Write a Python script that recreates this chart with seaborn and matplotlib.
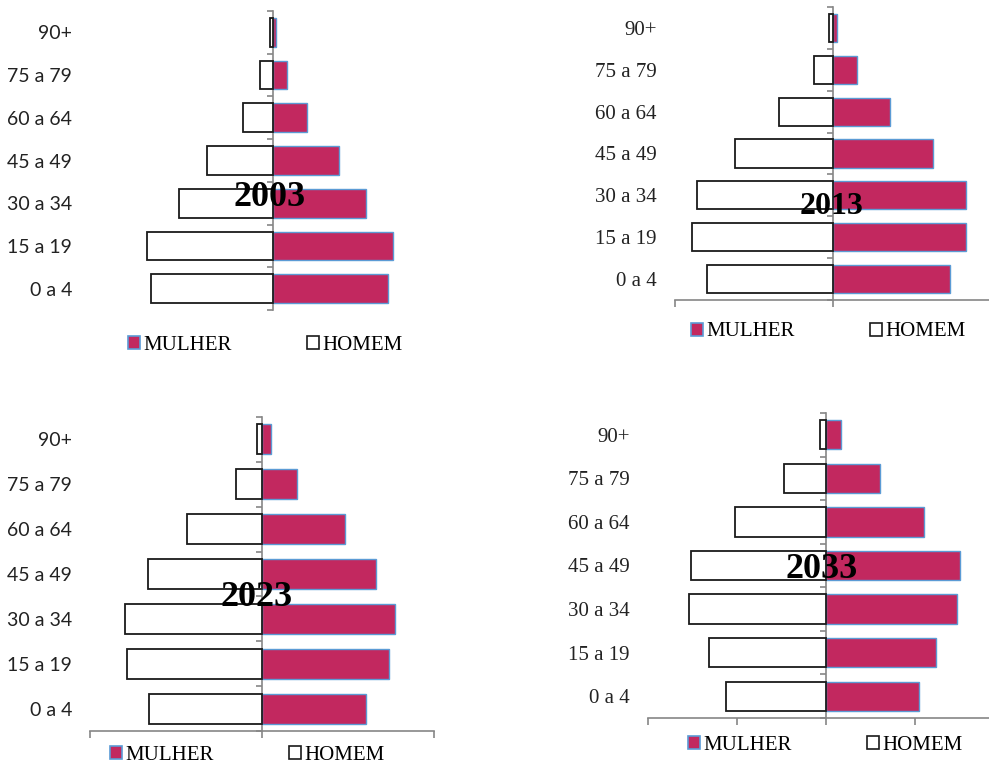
import matplotlib
matplotlib.use("Agg")
import matplotlib.pyplot as plt
import seaborn as sns
import pandas as pd
import numpy as np
from matplotlib.patches import Patch

# ---------------- data ----------------
grupos = ["0 a 4", "15 a 19", "30 a 34", "45 a 49", "60 a 64", "75 a 79", "90+"]
anos = ["2003", "2013", "2023", "2033"]

homem_2003 = [7.6, 7.9, 5.9, 4.1, 1.9, 0.8, 0.2]
mulher_2003 = [7.2, 7.5, 5.8, 4.1, 2.1, 0.9, 0.2]

homem_2013 = [8.0, 8.9, 8.6, 6.2, 3.4, 1.2, 0.25]
mulher_2013 = [7.4, 8.4, 8.4, 6.3, 3.6, 1.5, 0.27]

homem_2023 = [6.55, 7.87, 7.95, 6.63, 4.36, 1.49, 0.29]
mulher_2023 = [6.05, 7.37, 7.72, 6.65, 4.81, 2.03, 0.52]

homem_2033 = [5.6, 6.59, 7.70, 7.58, 5.10, 2.38, 0.35]
mulher_2033 = [5.24, 6.18, 7.36, 7.51, 5.49, 3.05, 0.86]

series = {
    "2003": (mulher_2003, homem_2003),
    "2013": (mulher_2013, homem_2013),
    "2023": (mulher_2023, homem_2023),
    "2033": (mulher_2033, homem_2033),
}

# ---------------- layout (pixels) ----------------
W, H = 989, 763
layout = {
    "2003": dict(x0=90, zero=273, x1=410, y0=11, y1=310, scale=16.0, tick=None,
                 year=(270, 198, 26), leg=(265, 345), labfont="Lato", labsize=14),
    "2013": dict(x0=675, zero=833, x1=1000, y0=7, y1=300, scale=15.8, tick=10,
                 year=(832, 207, 23), leg=(828, 332), labfont="Liberation Serif", labsize=15),
    "2023": dict(x0=90, zero=262, x1=434, y0=417, y1=731, scale=17.2, tick=10,
                 year=(257, 597, 26), leg=(247, 755), labfont="Lato", labsize=14),
    "2033": dict(x0=648, zero=826, x1=1000, y0=413, y1=718, scale=17.8, tick=5,
                 year=(822, 570, 26), leg=(825, 745), labfont="Liberation Serif", labsize=15),
}

CRIMSON = "#C2285F"
BLUE_EDGE = "#5B9BD5"
GRAY = "#868686"

fig = plt.figure(figsize=(W / 100, H / 100), dpi=100)
fig.patch.set_facecolor("white")

order = grupos[::-1]  # 90+ on top

for ano in anos:
    L = layout[ano]
    mulher, homem = series[ano]
    df = pd.DataFrame({
        "grupo": grupos * 2,
        "sexo": ["MULHER"] * len(grupos) + ["HOMEM"] * len(grupos),
        "valor": list(mulher) + [-v for v in homem],
    })
    ax = fig.add_axes([L["x0"] / W, 1 - L["y1"] / H,
                       (L["x1"] - L["x0"]) / W, (L["y1"] - L["y0"]) / H])
    sns.barplot(data=df, x="valor", y="grupo", hue="sexo", order=order,
                hue_order=["MULHER", "HOMEM"],
                palette={"MULHER": CRIMSON, "HOMEM": "white"}, saturation=1,
                dodge=False, width=0.67, ax=ax, legend=False, orient="h")
    for cont, ec, lw in zip(ax.containers, [BLUE_EDGE, "#1a1a1a"], [1.0, 1.3]):
        for bar in cont:
            bar.set_edgecolor(ec)
            bar.set_linewidth(lw)

    xmin = (L["x0"] - L["zero"]) / L["scale"]
    xmax = (L["x1"] - L["zero"]) / L["scale"]
    ax.set_xlim(xmin, xmax)
    ax.set_ylim(6.5, -0.5)
    ax.set_xlabel("")
    ax.set_ylabel("")
    ax.set_facecolor("none")

    for s in ["top", "right", "left"]:
        ax.spines[s].set_visible(False)
    ax.tick_params(axis="y", length=0, pad=13, labelsize=L["labsize"])
    for lab in ax.get_yticklabels():
        lab.set_fontfamily(L["labfont"])
        lab.set_color("#222222")

    if L["tick"] is None:
        ax.spines["bottom"].set_visible(False)
        ax.set_xticks([])
    else:
        ax.spines["bottom"].set_color(GRAY)
        ax.spines["bottom"].set_linewidth(1.2)
        step = L["tick"]
        ticks = np.arange(np.ceil(xmin / step) * step, xmax + 1e-9, step)
        ax.set_xticks(ticks)
        ax.set_xticklabels([])
        ax.tick_params(axis="x", length=5, width=1.2, color=GRAY)

    # central vertical axis with category boundary ticks
    frac = (0 - xmin) / (xmax - xmin)
    sec = ax.secondary_yaxis(frac)
    sec.set_alignment("left")
    sec.spines["left"].set_color(GRAY)
    sec.spines["left"].set_linewidth(1.2)
    sec.set_yticks(np.arange(-0.5, 7.0, 1.0))
    sec.set_yticklabels([])
    sec.tick_params(axis="y", length=4, width=1.2, color=GRAY, direction="out")

    # year label
    yx, yy, yfs = L["year"]
    fig.text(yx / W, 1 - yy / H, ano, ha="center", va="center",
             fontsize=yfs, fontweight="bold", family="Liberation Serif",
             color="black")

    # legend
    handles = [Patch(facecolor=CRIMSON, edgecolor=BLUE_EDGE, linewidth=1.2, label="MULHER"),
               Patch(facecolor="white", edgecolor="#1a1a1a", linewidth=1.2, label="HOMEM")]
    lx, ly = L["leg"]
    fig.legend(handles=handles, loc="center", ncol=2,
               bbox_to_anchor=(lx / W, 1 - ly / H), bbox_transform=fig.transFigure,
               frameon=False, handlelength=0.6, handleheight=0.6,
               handletextpad=0.15, columnspacing=3.6,
               prop={"family": "Liberation Serif", "size": 15})

fig.savefig("out.png", dpi=100, facecolor="white")
